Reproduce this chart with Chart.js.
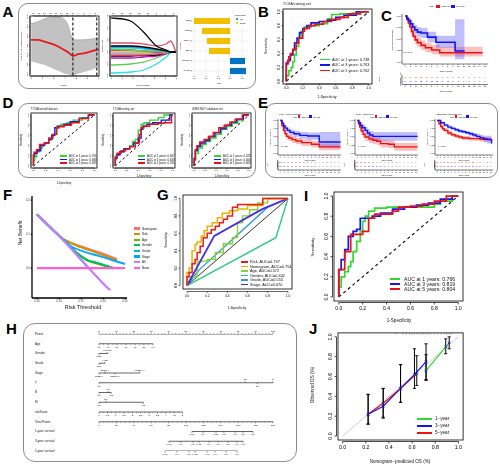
<!DOCTYPE html>
<html><head><meta charset="utf-8">
<script src="https://cdn.jsdelivr.net/npm/chart.js"></script>
<style>
html,body{margin:0;padding:0;background:#fff;}
#root{position:relative;width:500px;height:466px;overflow:hidden;font-family:"Liberation Sans",Arial,Helvetica,sans-serif;color:#111;background:#fff;}
.box{position:absolute;border:1px solid #8c8c8c;box-sizing:border-box;}
.L{position:absolute;font-weight:bold;font-size:15px;line-height:15px;color:#000;}
.t{position:absolute;white-space:nowrap;font-size:10px;line-height:10px;}
canvas{position:absolute;}
</style></head><body><div id="root"></div>
<script>
// ================= DATA =================
// A1 LASSO cross-validation
const cvLogLambda=[-7,-6.4,-5.8,-5.2,-4.6,-4.0,-3.7,-3.4,-3.28,-2.8,-2.2,-1.6,-1.0];
const cvDeviance=[11.72,11.72,11.68,11.64,11.58,11.50,11.46,11.40,11.38,11.42,11.44,11.48,11.52];
const cvUpper=[12.06,12.10,12.16,12.20,12.20,12.14,12.02,11.78,11.72,11.72,11.72,11.74,11.76];
const cvLower=[11.28,11.24,11.20,11.14,11.08,11.02,11.00,10.98,10.98,11.02,11.06,11.10,11.16];
const cvLambdaMarks=[-3.28,-1.15];
const cvTopAt=[-6.8,-6.3,-5.8,-5.3,-4.8,-4.3,-3.8,-3.3,-2.8,-2.3,-1.8,-1.3];
const cvTopLab=['17','17','16','16','15','14','13','11','9','7','4','2'];
const cvXTicks=[-7,-6,-5,-4,-3,-2,-1];
const cvYTicks=[11.0,11.2,11.4,11.6,11.8,12.0,12.2];
// A2 coefficient paths
const pathLogLambda=[-7,-5.2,-4.0,-2.8,-1.9,-1.48,-1.0];
const pathCoefs=[
 [0.567,0.517,0.333,0.1,0.033,0,0],
 [0.15,0.15,0.133,0.1,0.133,0.183,0],
 [0.1,0.1,0.083,0.05,0.017,0,0],
 [0.083,0.083,0.067,0.033,0.017,0,0],
 [0.067,0.067,0.05,0.033,0.008,0,0],
 [0.05,0.033,0.017,0.017,0,0,0],
 [0.033,0.033,0.017,0,0,0,0],
 [0.017,0.017,0,0,-0.008,0,0],
 [-0.017,-0.017,-0.017,-0.017,-0.008,0,0],
 [-0.05,-0.05,-0.05,-0.033,-0.017,0,0],
 [-0.067,-0.067,-0.058,-0.05,-0.017,0,0],
 [-0.1,-0.1,-0.083,-0.067,-0.033,0,0],
 [-0.217,-0.2,-0.167,-0.1,-0.033,0,0],
 [-0.35,-0.333,-0.3,-0.2,-0.083,-0.017,0]];
const pathColors=['#000000','#DF536B','#000000','#2297E6','#28E2E5','#61D04F','#CD0BBC','#F5C710','#9E9E9E','#DF536B','#000000','#CD0BBC','#61D04F','#28E2E5'];
const pathTopAt=[-6.8,-6.0,-5.2,-4.4,-3.6,-2.8,-2.0,-1.2];
const pathTopLab=['17','16','15','13','11','8','4','1'];
const pathXTicks=[-7,-6,-5,-4,-3,-2,-1];
const pathYTicks=[-0.4,-0.2,0,0.2,0.4,0.6];
// A3 coefficients
const geneNames=['CTSE','KRT6B','SLC1A6','GNG4','TMPRSS4','CALML5'];
const geneCoef=[-0.60,-0.467,-0.383,-0.35,0.25,0.267];
const coefTicks=[-0.6,-0.4,-0.2,0,0.2];
const coefTickLab=['-0.6','-0.4','-0.2','0.0','0.2'];
// shared ROC / KM ticks
const rocTicks=[0,0.2,0.4,0.6,0.8,1];
const rocTickLab=['0.0','0.2','0.4','0.6','0.8','1.0'];
const kmTimeTicks=[0,1,2,3,4,5,6,7,8,9,10,11,12,13,14,15];
const kmTimeLab=['0','1','2','3','4','5','6','7','8','9','10','11','12','13','14','15'];
const kmSurvTicks=[0,0.25,0.5,0.75,1];
const kmSurvLab=['0.00','0.25','0.50','0.75','1.00'];
// B ROC training set
const bFpr1=[0,0.03,0.06,0.08,0.10,0.12,0.15,0.18,0.22,0.30,0.40,0.50,0.55,0.65,0.80,0.90,1];
const bTpr1=[0,0.08,0.15,0.20,0.28,0.38,0.50,0.62,0.72,0.78,0.80,0.83,0.90,0.96,0.97,0.98,1];
const bFpr3=[0,0.02,0.05,0.08,0.10,0.13,0.16,0.20,0.25,0.30,0.40,0.50,0.60,0.70,0.85,1];
const bTpr3=[0,0.25,0.30,0.38,0.45,0.55,0.62,0.70,0.76,0.80,0.84,0.86,0.88,0.92,0.95,1];
const bFpr5=[0,0.03,0.05,0.08,0.12,0.15,0.20,0.22,0.28,0.35,0.45,0.55,0.65,0.75,0.90,1];
const bTpr5=[0,0.27,0.35,0.40,0.46,0.55,0.62,0.72,0.76,0.80,0.82,0.86,0.89,0.92,0.97,1];
const bAUC=['0.738','0.763','0.762'];
// C KM training set
const cHighT=[0,0.3,0.6,0.9,1.2,1.5,1.9,2.3,3.0,3.8,5.0,6.5,14.6];
const cHighS=[1,0.93,0.85,0.76,0.66,0.56,0.48,0.42,0.36,0.31,0.26,0.2,0.2];
const cHighUp=[1,0.98,0.92,0.85,0.76,0.67,0.59,0.53,0.47,0.42,0.37,0.33,0.36];
const cHighLo=[1,0.88,0.78,0.67,0.56,0.46,0.38,0.32,0.26,0.21,0.17,0.12,0.09];
const cLowT=[0,0.3,0.6,1.0,1.4,1.8,2.3,3.0,4.2,5.8,9.4,11.2];
const cLowS=[1,0.95,0.9,0.83,0.76,0.7,0.65,0.63,0.54,0.43,0.24,0.24];
const cLowUp=[1,0.99,0.96,0.91,0.85,0.8,0.76,0.74,0.66,0.57,0.93,0.93];
const cLowLo=[1,0.9,0.83,0.75,0.67,0.6,0.55,0.52,0.43,0.31,0.06,0.06];
const cRiskHigh=[96,69,36,21,17,14,10,8,5,3,3,2,2,1,1,0];
const cRiskLow=[96,85,67,52,43,33,25,17,12,5,2,0,0,0,0,0];
// D ROC curves
const d1Fpr1=[0,0.02,0.05,0.10,0.15,0.20,0.25,0.30,0.38,0.45,0.55,0.65,0.80,0.90,1];
const d1Tpr1=[0,0.10,0.18,0.28,0.35,0.42,0.45,0.52,0.62,0.78,0.82,0.85,0.90,0.95,1];
const d1Fpr3=[0,0.02,0.06,0.12,0.18,0.25,0.30,0.35,0.40,0.50,0.60,0.75,0.90,1];
const d1Tpr3=[0,0.20,0.25,0.30,0.40,0.45,0.52,0.60,0.75,0.78,0.82,0.87,0.94,1];
const d1Fpr5=[0,0.01,0.05,0.10,0.18,0.25,0.32,0.38,0.42,0.50,0.62,0.75,0.90,1];
const d1Tpr5=[0,0.22,0.27,0.32,0.42,0.45,0.55,0.62,0.75,0.77,0.80,0.85,0.93,1];
const d2Fpr1=[0,0.02,0.08,0.15,0.25,0.30,0.35,0.40,0.45,0.50,0.60,0.75,0.85,1];
const d2Tpr1=[0,0.12,0.22,0.28,0.33,0.40,0.48,0.52,0.70,0.82,0.85,0.90,0.95,1];
const d2Fpr3=[0,0.03,0.08,0.15,0.25,0.32,0.40,0.45,0.48,0.55,0.65,0.80,0.95,1];
const d2Tpr3=[0,0.15,0.22,0.28,0.34,0.38,0.45,0.55,0.72,0.78,0.82,0.85,0.90,1];
const d2Fpr5=[0,0.03,0.10,0.18,0.25,0.35,0.42,0.45,0.50,0.60,0.75,0.85,0.98,1];
const d2Tpr5=[0,0.18,0.25,0.30,0.33,0.38,0.45,0.62,0.75,0.78,0.82,0.84,0.85,1];
const d3Fpr1=[0,0.03,0.08,0.15,0.22,0.30,0.40,0.50,0.60,0.70,0.80,0.90,1];
const d3Tpr1=[0,0.12,0.25,0.35,0.42,0.48,0.55,0.62,0.72,0.78,0.84,0.90,1];
const d3Fpr3=[0,0.02,0.06,0.12,0.20,0.28,0.38,0.48,0.58,0.68,0.78,0.90,1];
const d3Tpr3=[0,0.15,0.30,0.38,0.45,0.50,0.58,0.65,0.73,0.80,0.86,0.92,1];
const d3Fpr5=[0,0.02,0.05,0.10,0.18,0.26,0.35,0.45,0.55,0.65,0.75,0.88,1];
const d3Tpr5=[0,0.12,0.32,0.40,0.47,0.52,0.58,0.66,0.75,0.80,0.86,0.92,1];
const d1AUC=['0.706','0.688','0.695'];
const d2AUC=['0.667','0.633','0.594'];
const d3AUC=['0.628','0.606','0.609'];
const setTitles=['TCGA overall dataset','TCGA testing set','GSE13507 validation set'];
// E KM curves
const e1HighT=[0,0.4,0.8,1.2,1.6,2.2,3,4,5.5,8,10,15.5];
const e1HighS=[1,0.85,0.7,0.6,0.52,0.47,0.42,0.38,0.33,0.28,0.2,0.2];
const e1HighUp=[1,0.92,0.79,0.7,0.62,0.57,0.52,0.48,0.43,0.38,0.3,0.3];
const e1HighLo=[1,0.78,0.61,0.5,0.42,0.37,0.32,0.28,0.23,0.18,0.1,0.1];
const e1LowT=[0,0.4,0.8,1.2,1.8,2.5,3.5,5,7,10,15.5];
const e1LowS=[1,0.92,0.84,0.77,0.7,0.64,0.6,0.55,0.53,0.35,0.35];
const e1LowUp=[1,0.97,0.91,0.85,0.79,0.73,0.69,0.65,0.64,0.65,0.65];
const e1LowLo=[1,0.87,0.77,0.69,0.61,0.55,0.51,0.45,0.42,0.18,0.18];
const e2HighT=[0,0.3,0.6,1,1.5,2,3,4,5,6,8,9.5,15.5];
const e2HighS=[1,0.9,0.8,0.68,0.58,0.5,0.44,0.4,0.37,0.3,0.28,0.2,0.2];
const e2HighUp=[1,0.97,0.9,0.8,0.7,0.62,0.56,0.52,0.49,0.42,0.4,0.32,0.32];
const e2HighLo=[1,0.83,0.7,0.56,0.46,0.38,0.32,0.28,0.25,0.18,0.16,0.08,0.08];
const e2LowT=[0,0.4,0.8,1.3,2,2.6,3.2,4,15.5];
const e2LowS=[1,0.93,0.85,0.78,0.7,0.62,0.56,0.52,0.52];
const e2LowUp=[1,0.99,0.94,0.88,0.81,0.74,0.68,0.65,0.65];
const e2LowLo=[1,0.87,0.76,0.68,0.59,0.5,0.44,0.39,0.39];
const e3HighT=[0,0.5,1,1.5,2,3,4,5,6,7,9,12,15.2];
const e3HighS=[1,0.9,0.82,0.75,0.7,0.62,0.57,0.53,0.5,0.47,0.45,0.43,0.43];
const e3HighUp=[1,0.95,0.88,0.81,0.76,0.68,0.63,0.59,0.56,0.53,0.51,0.5,0.5];
const e3HighLo=[1,0.85,0.76,0.69,0.64,0.56,0.51,0.47,0.44,0.41,0.39,0.36,0.36];
const e3LowT=[0,1,2,3,4,5,6,7,8,9,10,11,12,13,14,15,15.2];
const e3LowS=[1,0.93,0.86,0.8,0.76,0.72,0.68,0.66,0.63,0.6,0.56,0.52,0.48,0.44,0.42,0.42,0.3];
const e3LowUp=[1,0.96,0.9,0.85,0.81,0.77,0.73,0.71,0.68,0.66,0.62,0.59,0.56,0.54,0.54,0.6,0.6];
const e3LowLo=[1,0.9,0.82,0.75,0.71,0.67,0.63,0.61,0.58,0.54,0.5,0.45,0.4,0.34,0.3,0.24,0.1];
const e1RiskHigh=[105,64,43,31,24,18,15,11,7,5,4,3,2,2,1,0];
const e1RiskLow=[105,92,73,59,47,38,30,22,16,10,6,3,2,1,0,0];
const e2RiskHigh=[52,32,20,14,10,8,6,4,3,2,2,1,1,1,0,0];
const e2RiskLow=[52,46,36,28,22,18,14,10,7,5,3,2,1,0,0,0];
const e3RiskHigh=[82,70,58,50,42,36,30,24,20,16,12,9,6,4,2,1];
const e3RiskLow=[82,76,68,62,55,49,43,37,31,26,20,15,10,6,3,1];
const ePValues=['p<0.001','p=0.003','p=0.035'];
// F decision curves
const dcNames=['Nomogram','Risk','Age','Gender','Grade','Stage','All','None'];
const dcColors=['#F8766D','#CD9600','#7CAE00','#00BE67','#00BFC4','#00A9FF','#C77CFF','#FF61CC'];
const dcNomoX=[0.05,0.08,0.11,0.14,0.17,0.20,0.232];
const dcNomoY=[0.158,0.12,0.085,0.068,0.055,0.042,0.026];
const dcRiskX=[0.05,0.08,0.11,0.14,0.17,0.20,0.232];
const dcRiskY=[0.158,0.12,0.085,0.066,0.052,0.038,0.022];
const dcAgeX=[0.05,0.08,0.11,0.13,0.15,0.17,0.19,0.22];
const dcAgeY=[0.158,0.12,0.082,0.058,0.035,0.02,0.012,0.0];
const dcGenderX=[0.05,0.08,0.11,0.13,0.15,0.165,0.18,0.2,0.225];
const dcGenderY=[0.158,0.12,0.082,0.055,0.035,0.022,0.018,0.01,0.0];
const dcGradeX=[0.05,0.08,0.11,0.13,0.15,0.165];
const dcGradeY=[0.158,0.12,0.082,0.055,0.025,0.002];
const dcStageX=[0.05,0.08,0.11,0.13,0.16,0.19,0.22,0.25];
const dcStageY=[0.158,0.12,0.083,0.062,0.047,0.036,0.024,0.012];
const dcAllX=[0.05,0.1,0.15,0.2,0.216];
const dcAllY=[0.158,0.095,0.025,-0.045,-0.065];
const dcNoneX=[0.05,0.25];
const dcNoneY=[0,0];
// G ROC of factors
const gRiskFpr=[0,0.02,0.05,0.08,0.1,0.13,0.16,0.2,0.24,0.28,0.32,0.36,0.4,0.45,0.5,0.75,0.8,1];
const gRiskTpr=[0,0.1,0.15,0.25,0.3,0.38,0.45,0.55,0.6,0.64,0.68,0.72,0.76,0.8,0.9,0.93,1,1];
const gNomoFpr=[0,0.02,0.05,0.08,0.1,0.14,0.17,0.2,0.25,0.3,0.35,0.42,0.5,0.6,0.75,0.88,1];
const gNomoTpr=[0,0.15,0.2,0.4,0.47,0.5,0.57,0.63,0.68,0.72,0.78,0.83,0.86,0.88,0.92,1,1];
const gAgeFpr=[0,0.1,0.2,0.28,0.36,0.45,0.5,0.55,0.62,0.7,0.8,1];
const gAgeTpr=[0,0.1,0.28,0.3,0.38,0.48,0.55,0.72,0.8,0.87,0.95,1];
const gGenderFpr=[0,0.88,1];
const gGenderTpr=[0,0.55,1];
const gGradeFpr=[0,0.12,0.8,1];
const gGradeTpr=[0,0.18,0.9,1];
const gStageFpr=[0,0.27,0.75,1];
const gStageTpr=[0,0.57,0.88,1];
const gLegend=['Risk, AUC=0.737','Nomogram, AUC=0.754','Age, AUC=0.572','Gender, AUC=0.442','Grade, AUC=0.555','Stage, AUC=0.670'];
const gColors=['#EE1C1C','#E7B400','#86D42A','#2EC986','#2B9CD8','#4B2BE5'];
// I ROC nomogram
const iFpr1=[0,0.02,0.05,0.08,0.1,0.12,0.15,0.18,0.2,0.22,0.25,0.3,0.4,0.5,0.8,0.85,0.95,1];
const iTpr1=[0,0.1,0.2,0.25,0.3,0.35,0.45,0.55,0.65,0.75,0.8,0.85,0.88,0.89,0.89,0.92,0.95,1];
const iFpr3=[0,0.02,0.05,0.08,0.12,0.15,0.18,0.28,0.35,0.45,0.55,0.65,0.75,0.85,0.95,1];
const iTpr3=[0,0.27,0.37,0.47,0.6,0.65,0.67,0.78,0.8,0.83,0.87,0.89,0.91,0.93,0.97,1];
const iFpr5=[0,0.05,0.1,0.2,0.25,0.3,0.45,0.5,0.6,0.7,0.8,0.9,1];
const iTpr5=[0,0.27,0.45,0.62,0.65,0.78,0.82,0.85,0.89,0.9,0.92,0.95,1];
const iAUC=['0.766','0.819','0.804'];
// J calibration
const cal1Pred=[0.72,0.89,0.92];
const cal1Obs=[0.66,0.90,0.94];
const cal1Lo=[0.57,0.83,0.88];
const cal1Hi=[0.82,0.98,1.0];
const cal3Pred=[0.22,0.35,0.5,0.62,0.72];
const cal3Obs=[0.22,0.30,0.48,0.62,0.75];
const cal3Lo=[0.12,0.18,0.34,0.48,0.56];
const cal3Hi=[0.42,0.48,0.72,0.88,0.93];
const cal5Pred=[0.22,0.35,0.5,0.64];
const cal5Obs=[0.22,0.33,0.48,0.63];
const cal5Lo=[0.12,0.19,0.34,0.51];
const cal5Hi=[0.42,0.48,0.72,0.81];
const calRug=[0.46,0.52,0.55,0.58,0.6,0.62,0.64,0.66,0.68,0.7,0.72,0.74,0.76,0.79,0.82,0.85,0.88,0.9,0.92,0.94];
// H nomogram
const nomoLabels=['Points','Age','Gender','Grade','Stage','T','N','M','riskScore','Total Points','1-year survival','3-year survival','5-year survival'];
const nmPointsAt=[0,10,20,30,40,50,60,70,80,90,100];
const nmPointsLab=['0','10','20','30','40','50','60','70','80','90','100'];
const nmAgeAt=[0,5.2,10.3,15.5,20.7,25.8,31];
const nmAgeLab=['30','40','50','60','70','80','90'];
const nmGenderAt=[0,5];
const nmGenderLab=['Male','Female'];
const nmGradeAt=[0,3.5];
const nmGradeLab=['Low','High'];
const nmStageAt=[0,3.4,9.2,23.5];
const nmStageLab=['Stage I','Stage II','Stage III','Stage IV'];
const nmTAt=[0,84,91,100];
const nmTLab=['T1','T2','T3','T4'];
const nmNAt=[0,5.3,7];
const nmNLab=['N0','N1','N2'];
const nmMAt=[0,4,25.5];
const nmMLab=['M0','MX','M1'];
const nmRiskAt=[0,4.8,9.6,14.4,19.2,24,28.8,33.6,38.4,43.2,48];
const nmRiskLab=['0','0.5','1','1.5','2','2.5','3','3.5','4','4.5','5'];
const nmTotalAt=[0,10,20,30,40,50,60,70,80,90,100];
const nmTotalLab=['0','20','40','60','80','100','120','140','160','180','200'];
const nmY1At=[53.4,59.8,67.2,71.8,78.2,82.8,88.5];
const nmY1Lab=['0.95','0.9','0.85','0.8','0.7','0.6','0.5'];
const nmY3At=[40.2,47.1,54,57.5,63.2,68.4,74.1,79.3,82.8];
const nmY3Lab=['0.95','0.9','0.8','0.75','0.7','0.6','0.5','0.4','0.3'];
const nmY5At=[37.9,44.8,51.7,55.2,62.1,66.7,73,79.3];
const nmY5Lab=['0.95','0.9','0.8','0.75','0.7','0.6','0.5','0.4'];

// ================= HELPERS =================
const root=document.getElementById('root');
const FF='"Liberation Sans",Arial,Helvetica,sans-serif';
const RED='#EE1111',BLUE='#1515EE',GREEN='#2FD92F';
function box(x1,y1,x2,y2,r){const d=document.createElement('div');d.className='box';Object.assign(d.style,{left:x1+'px',top:y1+'px',width:(x2-x1)+'px',height:(y2-y1)+'px',borderRadius:(r||10)+'px'});root.appendChild(d);}
function letter(s,x,y){const d=document.createElement('div');d.className='L';d.textContent=s;d.style.left=x+'px';d.style.top=y+'px';root.appendChild(d);}
function txt(s,x,y,sz,al,rot,col){const d=document.createElement('div');d.className='t';d.textContent=s;d.style.left=x+'px';d.style.top=y+'px';if(col)d.style.color=col;const k=sz/10;
 if(rot||al==='c'){d.style.transformOrigin='50% 50%';d.style.transform='translate(-50%,-50%)'+(rot?' rotate(-90deg)':'')+' scale('+k+')';}
 else if(al==='r'){d.style.transformOrigin='100% 50%';d.style.transform='translate(-100%,-50%) scale('+k+')';}
 else{d.style.transformOrigin='0 50%';d.style.transform='translate(0,-50%) scale('+k+')';}
 root.appendChild(d);return d;}
function sw(x1,y,x2,col,h){const d=document.createElement('div');Object.assign(d.style,{position:'absolute',left:x1+'px',top:(y-(h||2)/2)+'px',width:(x2-x1)+'px',height:(h||2)+'px',background:col});root.appendChild(d);}
function ds(xa,ya,col,w,ex){return Object.assign({data:xa.map((x,i)=>({x:x,y:ya[i]})),borderColor:col,backgroundColor:col,borderWidth:w,pointRadius:0,pointHoverRadius:0,fill:false,tension:0,spanGaps:false},ex||{});}
function lin(min,max,rev){return{type:'linear',display:false,min:min,max:max,reverse:!!rev};}
function mk(L,T,R,B,p,cfg){
 const c=document.createElement('canvas');const w=Math.round(R-L+p[0]+p[2]),h=Math.round(B-T+p[1]+p[3]);
 c.width=w;c.height=h;c.style.width=w+'px';c.style.height=h+'px';c.style.left=(L-p[0])+'px';c.style.top=(T-p[1])+'px';
 root.appendChild(c);
 const o=cfg.options=cfg.options||{};
 Object.assign(o,{responsive:false,maintainAspectRatio:false,animation:false,devicePixelRatio:1,events:[],layout:{padding:{left:p[0],top:p[1],right:p[2],bottom:p[3]}}});
 o.plugins=Object.assign({legend:{display:false},tooltip:{enabled:false}},o.plugins||{});
 return new Chart(c.getContext('2d'),cfg);
}
function drawAxis(ctx,a,s,o){
 ctx.save();ctx.strokeStyle=o.c||'#000';ctx.fillStyle=o.tc||'#000';ctx.lineWidth=o.lw||0.6;
 ctx.font=(o.fs||4)+'px '+FF;
 const v=o.v,L=o.lab||v.map(String),len=(o.len===undefined?2:o.len),off=o.off||0,lo=(o.lo===undefined?len+1:o.lo);
 ctx.beginPath();
 if(o.ax==='x'){
  const top=o.pos==='t',d=top?-1:1,y0=top?a.top-off:a.bottom+off;
  if(o.line!==false){const x1=o.full?a.left:s.getPixelForValue(v[0]),x2=o.full?a.right:s.getPixelForValue(v[v.length-1]);ctx.moveTo(x1,y0);ctx.lineTo(x2,y0);}
  if(len)v.forEach(t=>{const x=s.getPixelForValue(t);ctx.moveTo(x,y0);ctx.lineTo(x,y0+d*len);});
  ctx.stroke();ctx.textAlign='center';ctx.textBaseline=top?'bottom':'top';
  v.forEach((t,i)=>ctx.fillText(L[i],s.getPixelForValue(t),y0+d*lo));
 }else{
  const rt=o.pos==='r',d=rt?1:-1,x0=rt?a.right+off:a.left-off;
  if(o.line!==false){const y1=o.full?a.top:s.getPixelForValue(v[0]),y2=o.full?a.bottom:s.getPixelForValue(v[v.length-1]);ctx.moveTo(x0,y1);ctx.lineTo(x0,y2);}
  if(len)v.forEach(t=>{const y=s.getPixelForValue(t);ctx.moveTo(x0,y);ctx.lineTo(x0+d*len,y);});
  ctx.stroke();
  v.forEach((t,i)=>{const y=s.getPixelForValue(t);
   if(o.rot){ctx.save();ctx.translate(x0+d*lo,y);ctx.rotate(-Math.PI/2);ctx.textAlign='center';ctx.textBaseline=rt?'top':'bottom';ctx.fillText(L[i],0,0);ctx.restore();}
   else{ctx.textAlign=rt?'left':'right';ctx.textBaseline='middle';ctx.fillText(L[i],x0+d*lo,y);}});
 }
 ctx.restore();
}
function deco(sp){return{id:'deco',
 beforeDatasetsDraw(ch){const ctx=ch.ctx,a=ch.chartArea,xs=ch.scales.x,ys=ch.scales.y;
  if(sp.grid){ctx.save();ctx.strokeStyle=sp.grid.c;ctx.lineWidth=sp.grid.w||0.5;ctx.beginPath();
   (sp.grid.x||[]).forEach(v=>{const x=xs.getPixelForValue(v);ctx.moveTo(x,a.top);ctx.lineTo(x,a.bottom);});
   (sp.grid.y||[]).forEach(v=>{const y=ys.getPixelForValue(v);ctx.moveTo(a.left,y);ctx.lineTo(a.right,y);});
   ctx.stroke();ctx.restore();}},
 afterDatasetsDraw(ch){const ctx=ch.ctx,a=ch.chartArea,xs=ch.scales.x,ys=ch.scales.y;
  if(sp.frame){ctx.save();ctx.strokeStyle=sp.frame.c||'#000';ctx.lineWidth=sp.frame.w||0.7;ctx.strokeRect(a.left,a.top,a.right-a.left,a.bottom-a.top);ctx.restore();}
  (sp.axes||[]).forEach(o=>drawAxis(ctx,a,o.ax==='x'?xs:ys,o));
  if(sp.after)sp.after(ctx,a,xs,ys);}};}

// ROC chart: curves = [[fpr,tpr,color,width,stepped]] top first
function rocChart(L,T,R,B,pad,curves,diag,ax){
 const sets=curves.map(c=>ds(c[0],c[1],c[2],c[3],{stepped:c[4]===false?false:'after'}));
 sets.push(ds([0,1],[0,1],diag[0],diag[1],{borderDash:diag[2]||[]}));
 return mk(L,T,R,B,pad,{type:'line',data:{datasets:sets},options:{scales:{x:lin(-0.04,1.04),y:lin(-0.04,1.04)}},
  plugins:[deco({frame:{w:0.8},axes:[Object.assign({ax:'x',v:rocTicks,lab:rocTickLab},ax.x),Object.assign({ax:'y',v:rocTicks,lab:rocTickLab,rot:true},ax.y)]})]});
}
// KM chart with risk table
function kmChart(L,T,R,B,pad,hi,lo,risk,st){
 const clear='rgba(0,0,0,0)';
 const sets=[
  ds(lo[0],lo[1],BLUE,st.w,{stepped:'before'}),
  ds(hi[0],hi[1],RED,st.w,{stepped:'before'}),
  ds(lo[0],lo[2],clear,1,{stepped:'before',fill:'+1',backgroundColor:'rgba(60,60,255,0.33)'}),
  ds(lo[0],lo[3],clear,1,{stepped:'before'}),
  ds(hi[0],hi[2],clear,1,{stepped:'before',fill:'+1',backgroundColor:'rgba(255,60,60,0.33)'}),
  ds(hi[0],hi[3],clear,1,{stepped:'before'})];
 return mk(L,T,R,B,pad,{type:'line',data:{datasets:sets},options:{scales:{x:lin(-0.6,15.6),y:lin(-0.045,1.045)}},
  plugins:[deco({axes:[{ax:'x',v:kmTimeTicks,lab:kmTimeLab,full:true,len:0.8,lo:1.2,fs:st.fs,lw:0.5},{ax:'y',v:kmSurvTicks,lab:kmSurvLab,full:true,len:0.8,lo:1.2,fs:st.fs,lw:0.5}],
  after:(ctx,a,xs)=>{
   ctx.save();ctx.font=st.fs+'px '+FF;ctx.textAlign='center';ctx.textBaseline='middle';
   kmTimeTicks.forEach((t,i)=>{const x=xs.getPixelForValue(t);ctx.fillStyle=RED;ctx.fillText(String(risk[0][i]),x,a.bottom+st.r1);ctx.fillStyle=BLUE;ctx.fillText(String(risk[1][i]),x,a.bottom+st.r2);});
   ctx.strokeStyle='#000';ctx.lineWidth=0.5;ctx.beginPath();
   ctx.moveTo(a.left,a.bottom+st.r1-2.5);ctx.lineTo(a.left,a.bottom+st.ra);ctx.lineTo(a.right,a.bottom+st.ra);
   ctx.moveTo(a.left,a.bottom+st.r1);ctx.lineTo(a.left-0.8,a.bottom+st.r1);ctx.moveTo(a.left,a.bottom+st.r2);ctx.lineTo(a.left-0.8,a.bottom+st.r2);
   kmTimeTicks.forEach(t=>{const x=xs.getPixelForValue(t);ctx.moveTo(x,a.bottom+st.ra);ctx.lineTo(x,a.bottom+st.ra+0.8);});
   ctx.stroke();ctx.fillStyle='#000';ctx.textBaseline='top';
   kmTimeTicks.forEach((t,i)=>ctx.fillText(kmTimeLab[i],xs.getPixelForValue(t),a.bottom+st.ra+1.2));
   ctx.restore();}})]});
}

// ================= LAYOUT =================
box(18,3,256,89,10);box(18,103,256,178,10);box(265,103,498,178,10);box(23,323,297,462,12);
letter('A',2.5,4);letter('B',258,4);letter('C',381,8);letter('D',2.5,95);letter('E',258,95);
letter('F',3,187);letter('G',157,187);letter('H',6,321);letter('I',304,188);letter('J',309,321);

// ---- A1 ----
mk(30,16,99,76,[10,10,3,8],{type:'line',data:{datasets:[
 ds([cvLambdaMarks[0],cvLambdaMarks[0]],[10.97,12.2],'#333',1.3,{borderDash:[3,2]}),
 ds([cvLambdaMarks[1],cvLambdaMarks[1]],[10.97,12.2],'#333',1.3,{borderDash:[3,2]}),
 ds(cvLogLambda,cvDeviance,'#E41A1C',1.8,{tension:0.4,cubicInterpolationMode:'monotone'}),
 ds(cvLogLambda,cvUpper,'#9a9a9a',0.6,{tension:0.4,cubicInterpolationMode:'monotone',fill:'+1',backgroundColor:'#C2C2C2'}),
 ds(cvLogLambda,cvLower,'#9a9a9a',0.6,{tension:0.4,cubicInterpolationMode:'monotone'})]},
 options:{scales:{x:lin(-7.1,-0.95),y:lin(10.96,12.22)}},
 plugins:[deco({frame:{w:0.8},axes:[{ax:'x',v:cvXTicks,fs:2.2,len:1,lo:1.5,lw:0.5},{ax:'y',v:cvYTicks,lab:cvYTicks.map(v=>v.toFixed(1)),rot:true,fs:2.2,len:1,lo:1.5,lw:0.5},{ax:'x',pos:'t',v:cvTopAt,lab:cvTopLab,fs:2.2,len:1,lo:1.5,lw:0.5}]})]});
txt('Partial Likelihood Deviance',21,46,2.4,'c',true);txt('Log(λ)',64,84.5,2.4,'c');

// ---- A2 ----
mk(110,16,177,76,[10,10,3,8],{type:'line',data:{datasets:pathCoefs.map((v,i)=>ds(pathLogLambda,v,pathColors[i],1.3,{tension:0.4,cubicInterpolationMode:'monotone'}))},
 options:{scales:{x:lin(-7.1,-0.9),y:lin(-0.4,0.6)}},
 plugins:[deco({frame:{w:0.8},axes:[{ax:'x',v:pathXTicks,fs:2.2,len:1,lo:1.5,lw:0.5},{ax:'y',v:pathYTicks,lab:pathYTicks.map(v=>v.toFixed(1)),rot:true,fs:2.2,len:1,lo:1.5,lw:0.5},{ax:'x',pos:'t',v:pathTopAt,lab:pathTopLab,fs:2.2,len:1,lo:1.5,lw:0.5}]})]});
txt('Coefficients',102,46,2.4,'c',true);txt('Log Lambda',143,84.5,2.4,'c');

// ---- A3 ----
mk(192,16,248,76,[16,4,3,8],{type:'bar',data:{labels:geneNames,datasets:[{data:geneCoef,backgroundColor:geneCoef.map(v=>v<0?'#EFC000':'#0073C2'),categoryPercentage:1,barPercentage:0.62}]},
 options:{indexAxis:'y',scales:{x:lin(-0.633,0.3),y:{type:'category',display:false,offset:true}}},
 plugins:[deco({grid:{x:coefTicks,y:[0,1,2,3,4,5],c:'#e4e4e4',w:0.5},axes:[{ax:'x',v:coefTicks,lab:coefTickLab,fs:2.2,len:1,lo:1.5,line:false,c:'#444'},{ax:'y',v:[0,1,2,3,4,5],lab:geneNames,fs:1.8,len:1,lo:1.5,line:false,c:'#444'}]})]});
txt('Genes',180,46,2.3,'c',true);txt('coef',219,83,2.4,'c');
txt('Regulated',235,14.5,2.4,'l');
(function(){const d1=document.createElement('div');Object.assign(d1.style,{position:'absolute',left:'236px',top:'18px',width:'2.4px',height:'2.4px',borderRadius:'50%',background:'#0073C2'});root.appendChild(d1);
 const d2=document.createElement('div');Object.assign(d2.style,{position:'absolute',left:'236px',top:'22px',width:'2.4px',height:'2.4px',borderRadius:'50%',background:'#EFC000'});root.appendChild(d2);})();
txt('Up',240,19.2,2.3,'l');txt('Down',240,23.2,2.3,'l');

// ---- B ----
rocChart(283,9,372,84,[12,3,4,10],[[bFpr5,bTpr5,RED,1.6],[bFpr3,bTpr3,BLUE,1.6],[bFpr1,bTpr1,GREEN,1.6]],['#000',1.1,[3,3]],
 {x:{fs:3.4,len:1.5,lo:2.5,lw:0.6},y:{fs:3.4,len:1.5,lo:2.5,lw:0.6}});
txt('TCGA training set',283,4,3.5,'l');txt('Sensitivity',266,46,3.5,'c',true);txt('1-Specificity',327,97,3.5,'c');
[GREEN,BLUE,RED].forEach((c,i)=>{const y=59.5+5.5*i;sw(320,y,330,c,1.6);txt('AUC at '+[1,3,5][i]+' years: '+bAUC[i],332,y,3.8,'l');});

// ---- C ----
kmChart(402,14,488,64,[10,3,10,30],[cHighT,cHighS,cHighUp,cHighLo],[cLowT,cLowS,cLowUp,cLowLo],[cRiskHigh,cRiskLow],{w:1.6,fs:2.2,r1:13,r2:17.5,ra:20.5});
txt('Survival probability',392,40,2.5,'c',true);txt('p<0.001',403,52,2.4,'l');txt('Time(years)',446,71,2.5,'c');
txt('Risk',429,6,2.4,'l');sw(436,6,439.5,RED,3);txt('High risk',441,6,2.4,'l');sw(451,6,454.5,BLUE,3);txt('Low risk',456,6,2.4,'l');
txt('Risk',379,79,2.4,'c',true);txt('High risk',400,77,2.3,'r',RED);txt('Low risk',400,81.5,2.3,'r',BLUE);txt('Time(years)',446,91,2.5,'c');

// ---- D ----
const dFrames=[[31,97],[113,175],[192,251]];
const dCurves=[[d1Fpr1,d1Tpr1,d1Fpr3,d1Tpr3,d1Fpr5,d1Tpr5],[d2Fpr1,d2Tpr1,d2Fpr3,d2Tpr3,d2Fpr5,d2Tpr5],[d3Fpr1,d3Tpr1,d3Fpr3,d3Tpr3,d3Fpr5,d3Tpr5]];
const dAUCs=[d1AUC,d2AUC,d3AUC];
dFrames.forEach((f,k)=>{const c=dCurves[k];
 rocChart(f[0],113,f[1],168,[8,3,3,7],[[c[4],c[5],RED,1.4],[c[2],c[3],BLUE,1.4],[c[0],c[1],GREEN,1.4]],['#000',1,[2.5,2.5]],
  {x:{fs:2.4,len:1,lo:1.6,lw:0.5},y:{fs:2.4,len:1,lo:1.6,lw:0.5}});
 txt(setTitles[k],f[0],108.5,2.8,'l');txt('Sensitivity',f[0]-10,140,2.7,'c',true);
 txt('1-Specificity',(f[0]+f[1])/2,k===0?182.5:175.5,2.7,'c');
 [GREEN,BLUE,RED].forEach((cc,i)=>{const y=156+3.5*i;sw(f[1]-37,y,f[1]-30,cc,1.4);txt('AUC at '+[1,3,5][i]+' years: '+dAUCs[k][i],f[1]-28,y,2.8,'l');});
});

// ---- E ----
const eFrames=[[278,341],[355,418],[435,493]];
const eData=[[[e1HighT,e1HighS,e1HighUp,e1HighLo],[e1LowT,e1LowS,e1LowUp,e1LowLo],[e1RiskHigh,e1RiskLow]],
 [[e2HighT,e2HighS,e2HighUp,e2HighLo],[e2LowT,e2LowS,e2LowUp,e2LowLo],[e2RiskHigh,e2RiskLow]],
 [[e3HighT,e3HighS,e3HighUp,e3HighLo],[e3LowT,e3LowS,e3LowUp,e3LowLo],[e3RiskHigh,e3RiskLow]]];
eFrames.forEach((f,k)=>{const d=eData[k];
 kmChart(f[0],119,f[1],155,[8,3,3,20],d[0],d[1],d[2],{w:1.4,fs:1.8,r1:8,r2:11.5,ra:15});
 const cx=(f[0]+f[1])/2;
 txt(setTitles[k],f[0]+1,113.5,2.3,'l');
 txt('Risk',f[0]+15,116.5,2,'l');sw(f[0]+19.5,116.5,f[0]+22,RED,2.5);txt('High risk',f[0]+23,116.5,2,'l');sw(f[0]+31,116.5,f[0]+33.5,BLUE,2.5);txt('Low risk',f[0]+34.5,116.5,2,'l');
 txt('Survival probability',f[0]-8,137,2,'c',true);txt(ePValues[k],f[0]+3,146,2,'l');txt('Time(years)',cx,159.8,2.1,'c');
 txt('Risk',f[0]-11,165,2,'c',true);txt('High risk',f[0]-1,163,1.8,'r',RED);txt('Low risk',f[0]-1,166.5,1.8,'r',BLUE);txt('Time(years)',cx,175.3,2.1,'c');
});

// ---- F ----
mk(32,196,127,298,[10,3,3,8],{type:'line',data:{datasets:[
 ds(dcNoneX,dcNoneY,dcColors[7],2.2),
 ds(dcAllX,dcAllY,dcColors[6],2.2,{tension:0.2}),
 ds(dcStageX,dcStageY,dcColors[5],2,{tension:0.3}),
 ds(dcGradeX,dcGradeY,dcColors[4],2,{tension:0.3}),
 ds(dcGenderX,dcGenderY,dcColors[3],2,{tension:0.3}),
 ds(dcAgeX,dcAgeY,dcColors[2],2,{tension:0.3}),
 ds(dcRiskX,dcRiskY,dcColors[1],2,{tension:0.3}),
 ds(dcNomoX,dcNomoY,dcColors[0],2,{tension:0.3})]},
 options:{scales:{x:lin(0.0386,0.2545),y:lin(-0.088,0.212)}},
 plugins:[deco({axes:[{ax:'x',v:[0.05,0.1,0.15,0.2,0.25],lab:['0.05','0.10','0.15','0.20','0.25'],full:true,lw:1.3,len:1.2,lo:2.2,fs:2.8,c:'#000',tc:'#444'},
  {ax:'y',v:[0,0.1,0.2],lab:['0.0','0.1','0.2'],full:true,lw:1.3,len:1.2,lo:2.2,fs:2.8,c:'#000',tc:'#444'}]})]});
txt('Net Benefit',20,233,5,'c',true);txt('Risk Threshold',83,307,5.5,'c');
dcNames.forEach((n,i)=>{const y=228.5+5.6*i;sw(134,y,139.5,dcColors[i],2.2);txt(n,141.5,y,3,'l');});

// ---- G ----
rocChart(183,195,292,289,[14,3,4,10],[[gRiskFpr,gRiskTpr,gColors[0],1.5],[gNomoFpr,gNomoTpr,gColors[1],1.5],[gStageFpr,gStageTpr,gColors[5],1.8,false],[gAgeFpr,gAgeTpr,gColors[2],1.4],[gGradeFpr,gGradeTpr,gColors[4],1.4,false],[gGenderFpr,gGenderTpr,gColors[3],1.4,false]],['#000',0.8],
 {x:{fs:3.2,len:1.5,lo:2.6,off:2.5,lw:0.6},y:{fs:3.2,len:1.5,lo:2.6,off:3,lw:0.6}});
txt('Sensitivity',166,240,3.4,'c',true);txt('1-Specificity',237,308,3.4,'c');
gLegend.forEach((l,i)=>{const y=262+4.5*i;sw(241,y,248,gColors[i],1.6);txt(l,250,y,3.9,'l');});

// ---- I ----
rocChart(334,192,463,301,[16,3,4,14],[[iFpr5,iTpr5,RED,1.7],[iFpr3,iTpr3,BLUE,1.7],[iFpr1,iTpr1,GREEN,1.7]],['#000',1.1,[3,3]],
 {x:{fs:5,len:2,lo:3.5,off:1.5,lw:0.7},y:{fs:5,len:2,lo:3.5,off:1.5,lw:0.7}});
txt('Sensitivity',313,247,4.2,'c',true);txt('1-Specificity',399,321,4.5,'c');
[GREEN,BLUE,RED].forEach((c,i)=>{const y=279.3+5*i;sw(390,y,400,c,1.7);txt('AUC at '+[1,3,5][i]+' years: '+iAUC[i],404,y,5.2,'l');});

// ---- J ----
function errPts(px,lo,hi){const o=[];px.forEach((x,i)=>{o.push({x:x,y:lo[i]},{x:x,y:hi[i]},{x:x,y:null});});return o;}
const mark={pointRadius:1.8,pointStyle:'crossRot',pointBorderColor:'#1010CC',pointBackgroundColor:'#1010CC',pointBorderWidth:0.8};
mk(338,332,464,440,[14,4,4,12],{type:'line',data:{datasets:[
 ds(cal3Pred,cal3Obs,BLUE,1.2,mark),
 ds(cal5Pred,cal5Obs,RED,1.2,mark),
 ds(cal1Pred,cal1Obs,GREEN,1.2,mark),
 {data:errPts(cal1Pred,cal1Lo,cal1Hi).concat(errPts(cal3Pred,cal3Lo,cal3Hi),errPts(cal5Pred,cal5Lo,cal5Hi)),borderColor:'#000',borderWidth:1,pointStyle:'line',pointRadius:1.6,pointBorderColor:'#000',pointBorderWidth:0.9,spanGaps:false,fill:false},
 ds(calRug,calRug.map(()=>1.033),'#555',0.5,{showLine:false,pointStyle:'line',rotation:90,pointRadius:0.9,pointBorderColor:'#555',pointBorderWidth:0.5}),
 ds([0,1],[0,1],'#cfcfcf',1)]},
 options:{scales:{x:lin(-0.04,1.04),y:lin(-0.04,1.04)}},
 plugins:[deco({frame:{w:0.8},axes:[{ax:'x',v:rocTicks,lab:rocTickLab,fs:5.2,len:2,lo:3.5,off:1.5,lw:0.7},{ax:'y',v:rocTicks,lab:rocTickLab,rot:true,fs:5.2,len:2,lo:3.5,off:1.5,lw:0.7}]})]});
txt('Observed OS (%)',313,385,4.6,'c',true);txt('Nomogram\u2212predicted OS (%)',400,462,4.6,'c');
[GREEN,BLUE,RED].forEach((c,i)=>{const y=419+7*i;sw(417,y,432,c,1.6);txt(['1\u2212year','3\u2212year','5\u2212year'][i],435,y,4.6,'l');});

// ---- H nomogram ----
(function(){
 const rows=[[nmPointsAt,nmPointsLab,'up',5],[nmAgeAt,nmAgeLab,'down',2],[nmGenderAt,nmGenderLab,'alt',0],[nmGradeAt,nmGradeLab,'alt',0],
  [nmStageAt,nmStageLab,'alt',0],[nmTAt,nmTLab,'alt',0],[nmNAt,nmNLab,'alt',0],[nmMAt,nmMLab,'alt',0],[nmRiskAt,nmRiskLab,'down',2],
  [nmTotalAt,nmTotalLab,'down',4],[nmY1At,nmY1Lab,'down',0],[nmY3At,nmY3Lab,'down',0],[nmY5At,nmY5Lab,'down',0]];
 const sets=rows.map((r,i)=>ds([r[0][0],r[0][r[0].length-1]],[i,i],'#000',0.6));
 mk(99,334,273,451,[74,9,22,9],{type:'line',data:{datasets:sets},options:{scales:{x:lin(0,100),y:lin(0,12,true)}},
  plugins:[deco({after:(ctx,a,xs,ys)=>{
   ctx.save();ctx.strokeStyle='#000';ctx.fillStyle='#000';ctx.lineWidth=0.45;
   rows.forEach((r,i)=>{const y=ys.getPixelForValue(i);
    ctx.font='3px '+FF;ctx.textAlign='left';ctx.textBaseline='middle';ctx.fillStyle='#222';ctx.fillText(nomoLabels[i],a.left-64,y);
    ctx.font='2.5px '+FF;ctx.textAlign='center';ctx.fillStyle='#000';
    const at=r[0],lab=r[1];ctx.beginPath();
    at.forEach((p,j)=>{const x=xs.getPixelForValue(p);const s=r[2]==='up'?-1:r[2]==='down'?1:(j%2?-1:1);
     ctx.moveTo(x,y);ctx.lineTo(x,y+s*1.5);
     if(r[3]&&j<at.length-1){const x2=xs.getPixelForValue(at[j+1]);for(let k=1;k<r[3];k++){const xm=x+(x2-x)*k/r[3];ctx.moveTo(xm,y);ctx.lineTo(xm,y+s*0.8);}}
     ctx.textBaseline=s<0?'bottom':'top';ctx.fillText(lab[j],x,y+s*1.9);});
    ctx.stroke();});
   ctx.restore();}})]});
})();
</script></body></html>
